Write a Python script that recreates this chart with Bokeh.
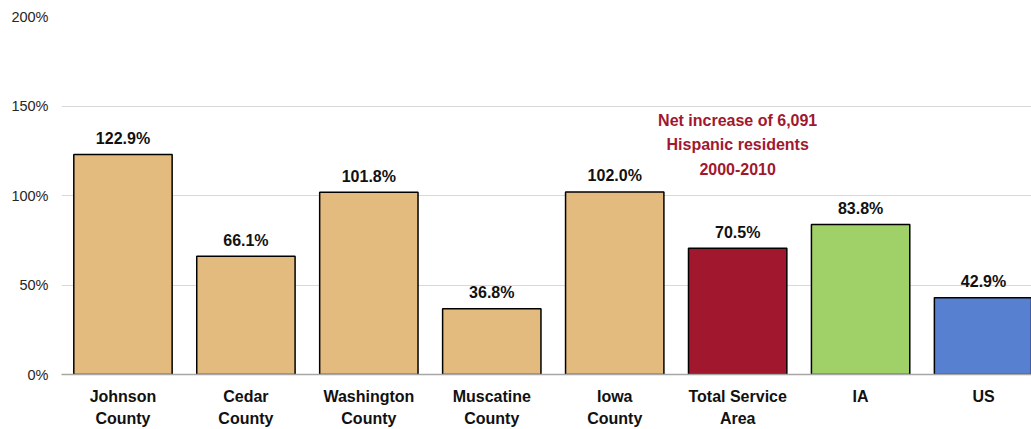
from bokeh.plotting import figure
from bokeh.models import Range1d, FixedTicker, PrintfTickFormatter, ColumnDataSource, Label
from bokeh.core.properties import value
from bokeh.embed import file_html
from bokeh.resources import INLINE

# ---- data ----
categories = ["Johnson\nCounty", "Cedar\nCounty", "Washington\nCounty", "Muscatine\nCounty",
              "Iowa\nCounty", "Total Service\nArea", "IA", "US"]
growth_pct = [122.9, 66.1, 101.8, 36.8, 102.0, 70.5, 83.8, 42.9]
y_ticks = [0, 50, 100, 150, 200]
annotation_text = "Net increase of 6,091\nHispanic residents\n2000-2010"
annotation_category = 5  # Total Service Area

# ---- styles ----
bar_colors = ["#E4BB7E", "#E4BB7E", "#E4BB7E", "#E4BB7E", "#E4BB7E",
              "#A1182E", "#A0D168", "#5880D0"]
FONT = "Liberation Sans"

xs = list(range(len(categories)))
src = ColumnDataSource(dict(
    x=xs, top=growth_pct, color=bar_colors,
    label=[f"{v:.1f}%" for v in growth_pct],
))

p = figure(width=1031, height=429, output_backend="svg", toolbar_location=None,
           x_range=Range1d(-0.5, 7.39), y_range=Range1d(0, 200),
           min_border_left=61, min_border_right=0, min_border_top=16, min_border_bottom=55)
p.outline_line_color = None
p.background_fill_color = "white"
p.border_fill_color = "white"

p.vbar(x="x", top="top", width=0.8, source=src, fill_color="color",
       line_color="black", line_width=1.5)

p.text(x="x", y="top", text="label", source=src, text_align="center",
       text_baseline="middle", y_offset=-16, text_font=value(FONT),
       text_font_size="16px", text_font_style="bold", text_color="#111111")

p.add_layout(Label(x=annotation_category, y=128.3, text=annotation_text,
                   text_align="center", text_baseline="middle",
                   text_font=FONT, text_font_size="16px", text_font_style="bold",
                   text_color="#A1182E", text_line_height=1.45))

# x axis
p.xaxis.ticker = FixedTicker(ticks=xs)
p.xaxis.major_label_overrides = {i: c for i, c in enumerate(categories)}
p.xaxis.major_tick_line_color = None
p.xaxis.minor_tick_line_color = None
p.xaxis.axis_line_color = "#A6A6A6"
p.xaxis.axis_line_width = 1.5
p.xaxis.major_label_text_font = FONT
p.xaxis.major_label_text_font_size = "16px"
p.xaxis.major_label_text_font_style = "bold"
p.xaxis.major_label_text_color = "#111111"
p.xaxis.major_label_text_line_height = 1.3
p.xaxis.major_label_standoff = 13
p.xaxis.major_tick_out = 0

# y axis
p.yaxis.ticker = FixedTicker(ticks=y_ticks)
p.yaxis.formatter = PrintfTickFormatter(format="%d%%")
p.yaxis.axis_line_color = None
p.yaxis.major_tick_line_color = None
p.yaxis.minor_tick_line_color = None
p.yaxis.major_tick_out = 0
p.yaxis.major_label_standoff = 13
p.yaxis.major_label_text_font = FONT
p.yaxis.major_label_text_font_size = "14.5px"
p.yaxis.major_label_text_color = "#262626"

p.xgrid.grid_line_color = None
p.ygrid.grid_line_color = "#D9D9D9"
p.ygrid.grid_line_width = 1

open("out.html", "w").write(file_html(p, INLINE))
